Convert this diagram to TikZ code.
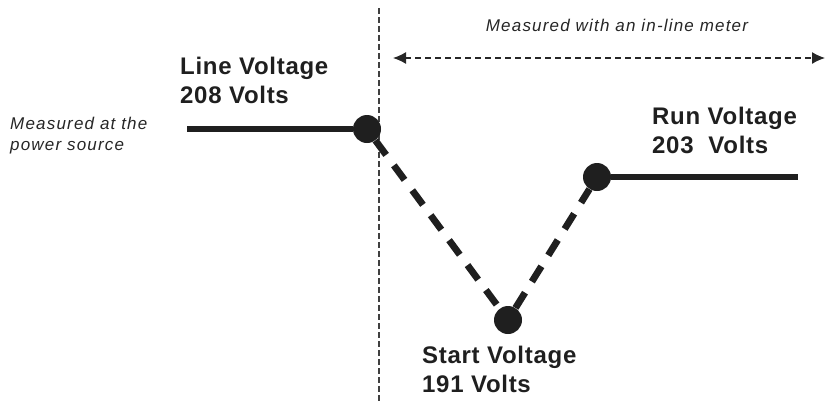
\documentclass[tikz,border=0pt]{standalone}
\usepackage{fontspec}
\setmainfont{Liberation Sans}
\newfontfamily\voltfont{Liberation Sans}[LetterSpace=3]
\newfontfamily\notefont{Liberation Sans}[LetterSpace=7]
\usetikzlibrary{arrows.meta}

\begin{document}
\begin{tikzpicture}[x=1pt, y=-1pt,
  dot/.style={circle, fill=black!88, inner sep=0pt, minimum size=28pt},
  wire/.style={line width=6.8pt, black!88},
  surge/.style={wire, dash pattern=on 18pt off 13pt},
  divider/.style={line width=1.3pt, black!75, dash pattern=on 6pt off 3pt},
  meter/.style={line width=1.3pt, black!85, dash pattern=on 6pt off 4pt,
    {Latex[length=13pt,width=12pt]}-{Latex[length=13pt,width=12pt]}},
  volts/.style={anchor=base west, inner sep=0pt, align=left, black!88,
    font=\voltfont\bfseries\fontsize{24}{28.5}\selectfont},
  note/.style={anchor=base west, inner sep=0pt, align=left, black!85,
    font=\notefont\itshape\fontsize{17}{21}\selectfont}]
\useasboundingbox (0,0) rectangle (825,402);
% divider between the two measuring points
\coordinate (divtop) at (379,8);
\coordinate (divbot) at (379,402);
\draw[divider] (divtop) -- (divbot);
\coordinate (mleft) at (393,58);
\coordinate (mright) at (825,58);
\draw[meter] (mleft) -- (mright);
\node[note, anchor=base] (metertxt) at (617,31) {Measured with an in-line meter};
% the voltage curve
\node[dot] (linept) at (367,129) {};
\node[dot] (startpt) at (508,320) {};
\node[dot] (runpt) at (597,177) {};
\coordinate (srcend) at (187,129);
\coordinate (runend) at (798,177);
\draw[wire] (srcend) -- (linept);
\draw[surge] (linept) -- (startpt);
\draw[surge] (startpt) -- (runpt);
\draw[wire] (runpt) -- (runend);
% labels (base = baseline of the last line)
\node[note] (srclbl) at (10,150) {Measured at the\\power source};
\node[volts] (linelbl) at (180,103) {Line Voltage\\208 Volts};
\node[volts] (runlbl) at (652,153) {Run Voltage\\203~ Volts};
\node[volts] (startlbl) at (422,392) {Start Voltage\\191 Volts};
\end{tikzpicture}
\end{document}
